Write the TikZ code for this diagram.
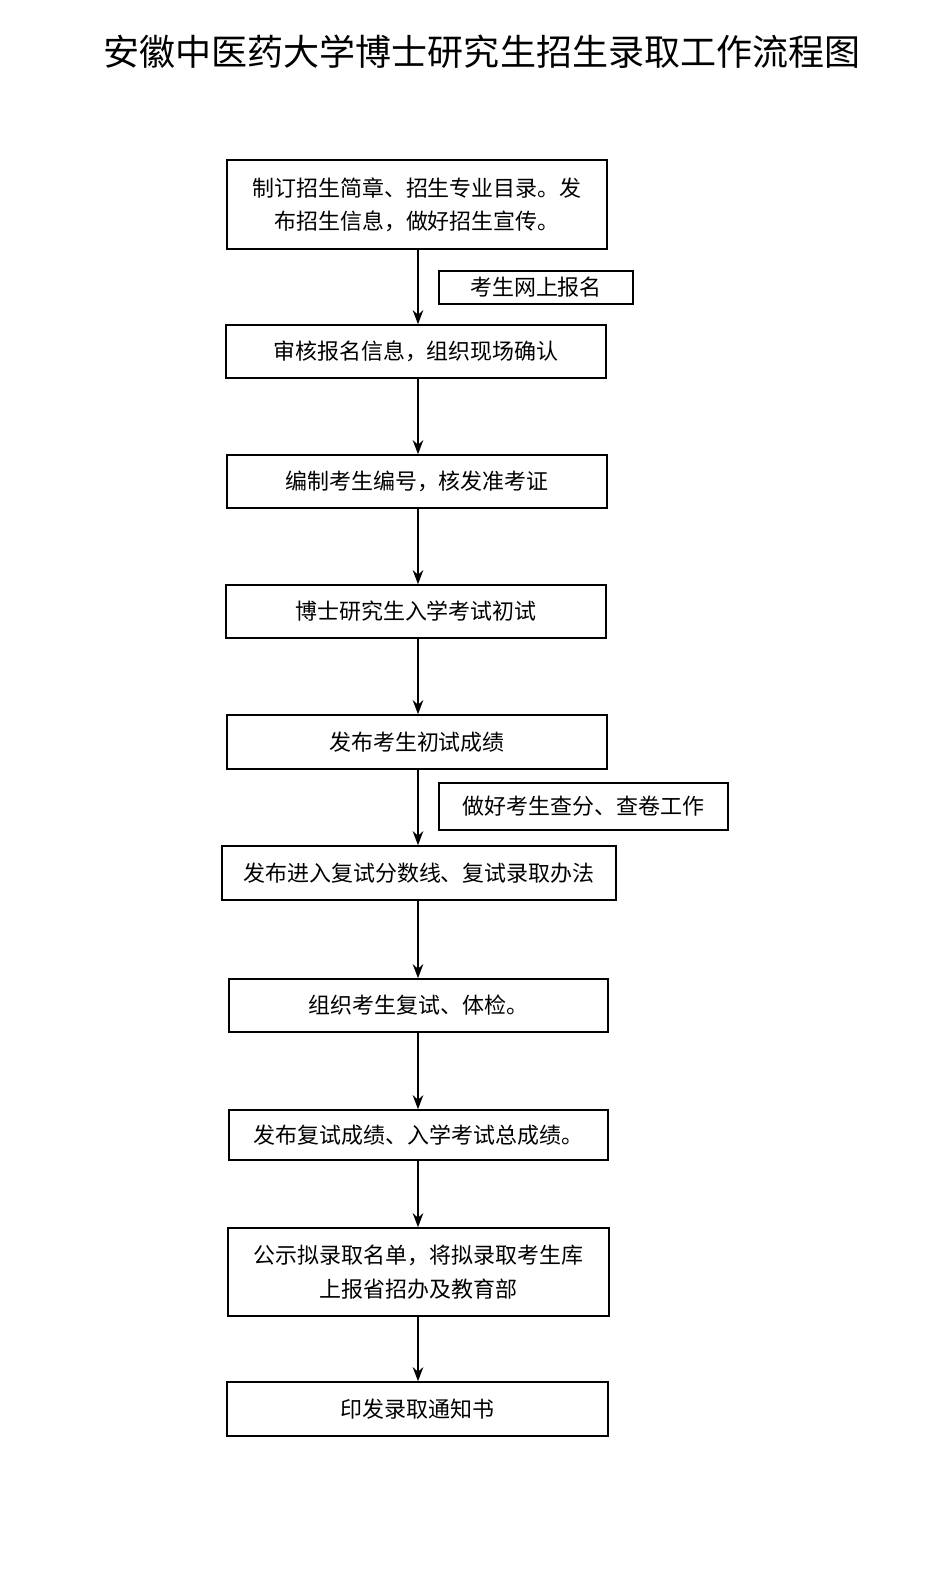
\documentclass[tikz,border=0pt]{standalone}
\usepackage{fontspec}
\setmainfont{Noto Sans CJK SC}
\usetikzlibrary{arrows.meta}
\tikzset{
  stepbox/.style={draw,line width=0.9pt,inner sep=0pt,align=center,
    font=\fontsize{12.5}{19}\selectfont},
  notebox/.style={draw,line width=0.9pt,inner sep=0pt,align=center,
    font=\fontsize{12.5}{19}\selectfont},
  flow/.style={-{Stealth[length=8pt,width=6pt]},line width=1.1pt}
}
\begin{document}
\begin{tikzpicture}[x=0.02cm,y=-0.02cm]
    \useasboundingbox (0,0) rectangle (933,1586);
    %title
    \node (title) at (482,52) {\fontsize{20.5}{24}\selectfont 安徽中医药大学博士研究生招生录取工作流程图};
    %steps
    \node[stepbox,minimum width=7.6cm,minimum height=1.78cm] (s1) at (417,204.5)
        {制订招生简章、招生专业目录。发\\布招生信息，做好招生宣传。};
    \node[stepbox,minimum width=7.6cm,minimum height=1.06cm] (s2) at (416,351.5) {审核报名信息，组织现场确认};
    \node[stepbox,minimum width=7.6cm,minimum height=1.06cm] (s3) at (417,481.5) {编制考生编号，核发准考证};
    \node[stepbox,minimum width=7.6cm,minimum height=1.06cm] (s4) at (416,611.5) {博士研究生入学考试初试};
    \node[stepbox,minimum width=7.6cm,minimum height=1.08cm] (s5) at (417,742) {发布考生初试成绩};
    \node[stepbox,minimum width=7.88cm,minimum height=1.08cm] (s6) at (419,873) {发布进入复试分数线、复试录取办法};
    \node[stepbox,minimum width=7.58cm,minimum height=1.06cm] (s7) at (418.5,1005.5) {组织考生复试、体检。};
    \node[stepbox,minimum width=7.58cm,minimum height=1.0cm] (s8) at (418.5,1135) {发布复试成绩、入学考试总成绩。};
    \node[stepbox,minimum width=7.62cm,minimum height=1.76cm] (s9) at (418.5,1272)
        {公示拟录取名单，将拟录取考生库\\上报省招办及教育部};
    \node[stepbox,minimum width=7.62cm,minimum height=1.08cm] (s10) at (417.5,1409) {印发录取通知书};
    %notes
    \node[notebox,minimum width=3.88cm,minimum height=0.66cm] (n1) at (536,287.5) {考生网上报名};
    \node[notebox,minimum width=5.78cm,minimum height=0.94cm] (n2) at (583.5,806.5) {做好考生查分、查卷工作};
    %arrows
    \foreach \a/\b in {s1/s2,s2/s3,s3/s4,s4/s5,s5/s6,s6/s7,s7/s8,s8/s9,s9/s10}
        \draw[flow] (\a.south -| 418,0) -- (\b.north -| 418,0);
\end{tikzpicture}
\end{document}
